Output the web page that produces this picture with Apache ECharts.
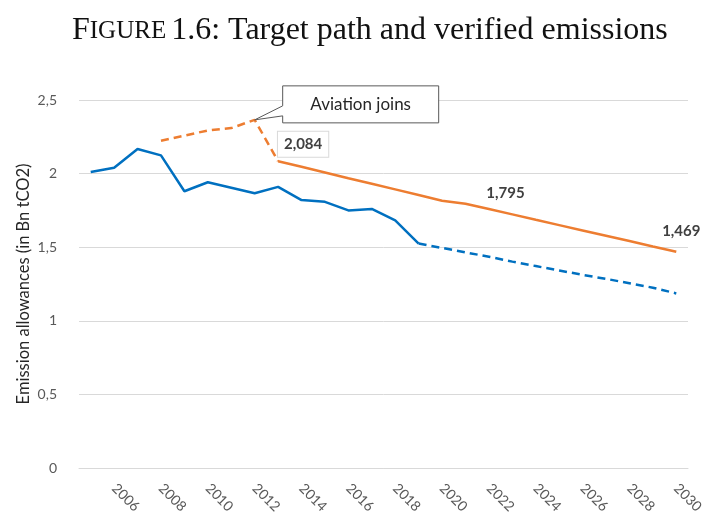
<!DOCTYPE html>
<html lang="en">

<head>
    <meta charset="UTF-8">
    <script src="https://cdn.jsdelivr.net/npm/echarts@6/dist/echarts.min.js"></script>
    <title>Target path and verified emissions</title>
    <style>
        html, body { margin: 0; padding: 0; background: #fff; }
        #chart { width: 702px; height: 515px; }
    </style>
</head>

<body>
    <div id="chart"></div>

    <script>
        // years on the x axis
        var years = ['2005', '2006', '2007', '2008', '2009', '2010', '2011', '2012', '2013', '2014', '2015', '2016', '2017',
            '2018', '2019', '2020', '2021', '2022', '2023', '2024', '2025', '2026', '2027', '2028', '2029', '2030'];
        // verified emissions 2005-2019 (solid blue)
        var verified = [2.011, 2.040, 2.167, 2.124, 1.880, 1.941, 1.904, 1.867, 1.910, 1.820, 1.808, 1.750, 1.760, 1.682, 1.525];
        // projected emissions 2019-2030 (dashed blue)
        var projected = [1.525, 1.495, 1.465, 1.435, 1.402, 1.372, 1.342, 1.312, 1.285, 1.255, 1.225, 1.186];
        // cap before aviation joins 2008-2013 (dashed orange)
        var capEarly = [2.223, 2.258, 2.293, 2.309, 2.365, 2.084];
        // target path 2013-2030 (solid orange)
        var capPath = [2.084, 2.046, 2.008, 1.969, 1.931, 1.893, 1.855, 1.816, 1.795, 1.759, 1.723, 1.686, 1.650, 1.614, 1.578, 1.542, 1.505, 1.469];
        // labelled cap values
        var capLabels = [['2013', '2,084'], ['2021', '1,795'], ['2030', '1,469']];

        var blue = '#0070C0';
        var orange = '#ED7D31';
        var font = 'Lato, "Open Sans", sans-serif';
        var serif = '"Liberation Serif", serif';

        // put values on the year axis from a start year
        function place(startYear, values) {
            return years.map(function (y) {
                var k = parseInt(y) - startYear;
                return (k >= 0 && k < values.length) ? values[k] : null;
            });
        }
        function capAt(year) {
            return capPath[parseInt(year) - 2013];
        }

        // label offsets (centre of label relative to its point)
        var labelOffsets = { '2013': [25, -17], '2021': [40, -11], '2030': [5, -21] };

        var myChart = echarts.init(document.getElementById('chart'));
        var option = {
            animation: false,
            backgroundColor: '#fff',
            title: {
                text: '{big|F}{small|IGURE} {big|1.6: Target path and verified emissions}',
                left: 67,
                top: 10,
                textStyle: {
                    rich: {
                        big: { fontFamily: serif, fontSize: 32, fontWeight: 'normal', color: '#111' },
                        small: { fontFamily: serif, fontSize: 25, fontWeight: 'normal', color: '#111' }
                    }
                }
            },
            grid: { left: 79, right: 14, top: 100, bottom: 47, containLabel: false, outerBoundsMode: 'none' },
            xAxis: {
                type: 'category',
                data: years,
                boundaryGap: true,
                axisLine: { lineStyle: { color: '#d9d9d9', width: 1 } },
                axisTick: { show: false },
                axisLabel: {
                    interval: function (i) { return i % 2 === 1; },
                    rotate: -45,
                    margin: 18,
                    color: '#595959',
                    fontFamily: font,
                    fontSize: 14
                }
            },
            yAxis: {
                type: 'value',
                min: 0,
                max: 2.5,
                interval: 0.5,
                name: 'Emission allowances (in Bn tCO2)',
                nameLocation: 'middle',
                nameGap: 47,
                nameMoveOverlap: false,
                nameTextStyle: { color: '#262626', fontFamily: font, fontSize: 16.5 },
                axisLine: { show: false },
                axisTick: { show: false },
                splitLine: { lineStyle: { color: '#d9d9d9', width: 1 } },
                axisLabel: {
                    margin: 22,
                    color: '#595959',
                    fontFamily: font,
                    fontSize: 14,
                    formatter: function (v) { return String(v).replace('.', ','); }
                }
            },
            series: [{
                name: 'Verified emissions',
                type: 'line',
                data: place(2005, verified),
                showSymbol: false,
                lineStyle: { color: blue, width: 2.5 }
            }, {
                name: 'Projected emissions',
                type: 'line',
                data: place(2019, projected),
                showSymbol: false,
                lineStyle: { color: blue, width: 2.5, type: [8, 5] }
            }, {
                name: 'Cap (before aviation)',
                type: 'line',
                data: place(2008, capEarly),
                showSymbol: false,
                lineStyle: { color: orange, width: 2.5, type: [8, 5] }
            }, {
                name: 'Target path',
                type: 'line',
                data: place(2013, capPath),
                showSymbol: false,
                lineStyle: { color: orange, width: 2.5 },
                markPoint: {
                    symbol: 'circle',
                    symbolSize: 1,
                    itemStyle: { color: 'rgba(0,0,0,0)' },
                    data: capLabels.map(function (c, i) {
                        return {
                            coord: [c[0], capAt(c[0])],
                            label: {
                                show: true,
                                position: 'inside',
                                offset: labelOffsets[c[0]],
                                formatter: c[1],
                                color: '#404040',
                                fontFamily: font,
                                fontWeight: 'bold',
                                fontSize: 15,
                                backgroundColor: i === 0 ? '#fff' : 'transparent',
                                borderColor: i === 0 ? '#d9d9d9' : 'transparent',
                                borderWidth: i === 0 ? 1 : 0,
                                padding: i === 0 ? [5, 6] : 0
                            }
                        };
                    })
                }
            }]
        };
        myChart.setOption(option);

        // callout for the aviation point, placed from the axis scales
        var p = myChart.convertToPixel({ seriesIndex: 2 }, ['2012', capEarly[4]]);
        var L = p[0] + 28, T = p[1] - 34, R = L + 156, B = T + 37;
        myChart.setOption({
            graphic: [{
                type: 'polygon',
                shape: {
                    points: [[L, T], [R, T], [R, B], [L, B], [L, B - 7], [p[0], p[1]], [L, B - 17]]
                },
                style: { fill: '#fff', stroke: '#595959', lineWidth: 1 },
                z: 100
            }, {
                type: 'text',
                x: (L + R) / 2,
                y: (T + B) / 2,
                style: {
                    text: 'Aviation joins',
                    fill: '#262626',
                    font: '17px ' + font,
                    align: 'center',
                    verticalAlign: 'middle'
                },
                z: 101
            }]
        });
    </script>

</body>

</html>
